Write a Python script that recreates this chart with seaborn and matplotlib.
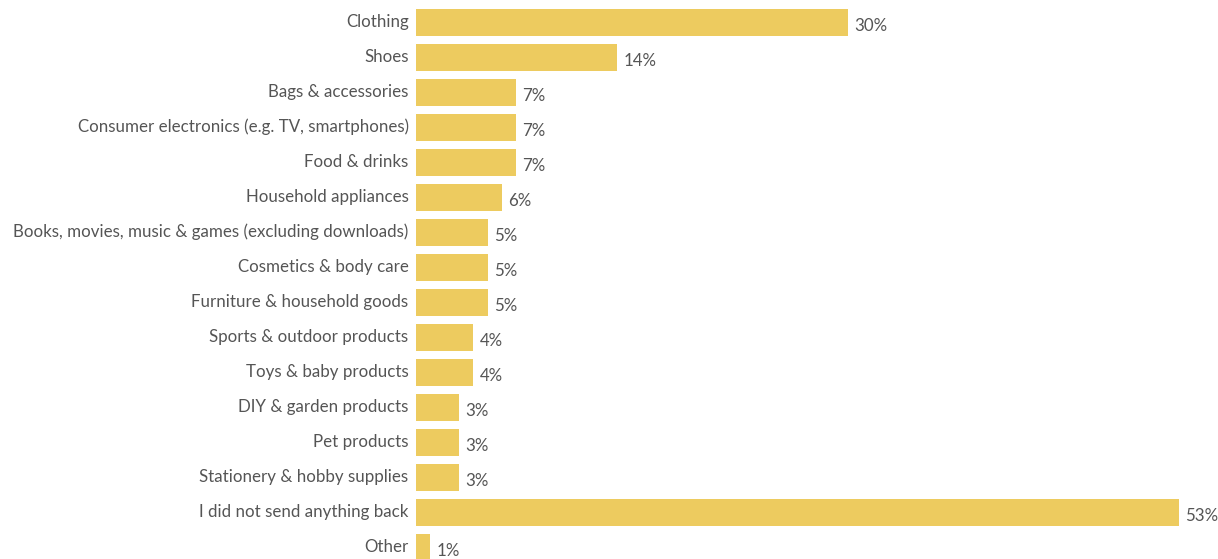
import matplotlib
matplotlib.use("Agg")
import matplotlib.pyplot as plt
import matplotlib.transforms as mtransforms
import seaborn as sns
import pandas as pd

categories = [
    "Clothing",
    "Shoes",
    "Bags & accessories",
    "Consumer electronics (e.g. TV, smartphones)",
    "Food & drinks",
    "Household appliances",
    "Books, movies, music & games (excluding downloads)",
    "Cosmetics & body care",
    "Furniture & household goods",
    "Sports & outdoor products",
    "Toys & baby products",
    "DIY & garden products",
    "Pet products",
    "Stationery & hobby supplies",
    "I did not send anything back",
    "Other",
]
shares = [30, 14, 7, 7, 7, 6, 5, 5, 5, 4, 4, 3, 3, 3, 53, 1]

df = pd.DataFrame({"category": categories, "share": shares})

sns.set_theme(style="white")
plt.rcParams["font.family"] = ["Lato", "DejaVu Sans"]

BAR = "#EDCB5F"
TEXT = "#555555"
FS = 12.2

fig = plt.figure(figsize=(12.18, 5.59), dpi=100)
ax = fig.add_axes([415.5 / 1218, 0, (1179 - 415.5) / 1218, 1])

sns.barplot(data=df, x="share", y="category", orient="h", color=BAR,
            saturation=1, width=0.77, linewidth=0, ax=ax)

ax.set_xlim(0, 53)
ax.set_ylim(15.33, -0.643)
ax.set_xlabel("")
ax.set_ylabel("")
ax.set_xticks([])
ax.tick_params(axis="y", length=0, pad=5, labelsize=FS, labelcolor=TEXT)
lift = mtransforms.ScaledTranslation(0, 1.5 / 72, fig.dpi_scale_trans)
for lbl in ax.get_yticklabels():
    lbl.set_verticalalignment("center_baseline")
    lbl.set_transform(lbl.get_transform() + lift)
for s in ax.spines.values():
    s.set_visible(False)

for i, v in enumerate(shares):
    ax.annotate(f"{v}%", xy=(v, i), xytext=(4.5, -1.5), textcoords="offset points",
                va="center_baseline", ha="left", fontsize=FS,
                color=TEXT, annotation_clip=False)

fig.savefig("out.png", dpi=100)
